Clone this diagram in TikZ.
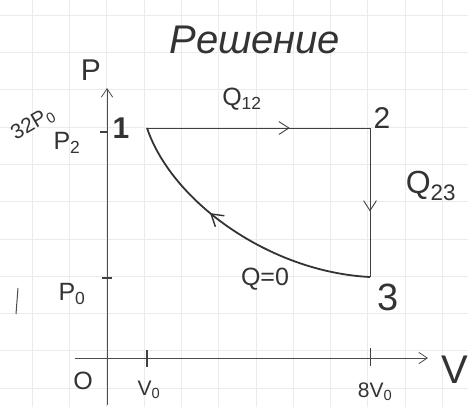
\documentclass[tikz,border=0pt]{standalone}
\usepackage{fontspec}
\setmainfont{Liberation Sans}
\usepackage{tikz}
\usetikzlibrary{arrows.meta,decorations.markings}

\begin{document}
\begin{tikzpicture}[
    x=1pt, y=-1pt,
    >={Straight Barb[length=3mm,width=4mm]},
    gridline/.style={gray!16,line width=0.6pt},
    axis/.style={->,black!70,line width=0.8pt},
    proc/.style={black!75,line width=0.9pt},
    adiab/.style={black!80,line width=1.8pt},
    midarrow/.style={postaction={decorate},decoration={markings,
        mark=at position #1 with {\arrow[line width=0.9pt]{Straight Barb[length=3.5mm,width=4.5mm]}}}},
    backarrow/.style={postaction={decorate},decoration={markings,
        mark=at position #1 with {\arrowreversed[line width=1.4pt]{Straight Barb[length=4mm,width=5mm]}}}},
    tick/.style={black!75,line width=1pt},
    big/.style={text=black!80,inner sep=0pt,font=\fontsize{30}{32}\selectfont},
    mid/.style={text=black!80,inner sep=0pt,font=\fontsize{25}{27}\selectfont},
    small/.style={text=black!80,inner sep=0pt,font=\fontsize{21}{23}\selectfont},
  ]
  \useasboundingbox (0,0) rectangle (468,407);

  % --- squared paper ---
  \foreach \k in {0,...,11} {
    \draw[gridline] ({32+37.3*\k},0) -- ({32+37.3*\k},407);
  }
  \foreach \k in {0,...,10} {
    \draw[gridline] (0,{15+37.3*\k}) -- (468,{15+37.3*\k});
  }

  % --- title ---
  \node[text=black!80,font=\itshape\fontsize{40}{42}\selectfont] (title) at (255,40) {Решение};

  % --- axes ---
  \coordinate (o)  at (107,358);
  \coordinate (xs) at (75,358);
  \coordinate (xe) at (428,358);
  \coordinate (ys) at (107,405);
  \coordinate (ye) at (107,88);
  \draw[axis] (xs) -- (xe);
  \draw[axis] (ys) -- (ye);
  \node[big] (plab) at (91,70) {P};
  \node[font=\fontsize{40}{42}\selectfont,text=black!80,inner sep=0pt] (vlab) at (455,370) {V};
  \node[mid] (olab) at (83,381) {O};

  % --- states ---
  \coordinate (p1) at (147,128);
  \coordinate (p2) at (370,128);
  \coordinate (p3) at (370,277);
  \node[big,font=\bfseries\fontsize{30}{32}\selectfont] (n1) at (121,128) {1};
  \node[big] (n2) at (382,118) {2};
  \node[font=\fontsize{38}{40}\selectfont,text=black!80,inner sep=0pt] (n3) at (388,297) {3};

  % --- ticks on the axes ---
  \coordinate (tp2a) at (100,132);  \coordinate (tp2b) at (108,132);
  \coordinate (tp0a) at (102,278);  \coordinate (tp0b) at (112,278);
  \coordinate (tv0a) at (147,350);  \coordinate (tv0b) at (147,367);
  \coordinate (tv8a) at (370,348);  \coordinate (tv8b) at (370,366);
  \draw[tick,line width=1.6pt] (tp2a) -- (tp2b);
  \draw[tick,line width=1.8pt] (tp0a) -- (tp0b);
  \draw[tick,line width=2pt] (tv0a) -- (tv0b);
  \draw[tick] (tv8a) -- (tv8b);

  % --- axis values ---
  \node[small,rotate=30] (p32) at (33,124) {32P\textsubscript{0}};
  \node[mid] (p2lab) at (67,143) {P\textsubscript{2}};
  \node[mid] (p0lab) at (72,294) {P\textsubscript{0}};
  \node[small] (v0lab) at (149,390) {V\textsubscript{0}};
  \node[small] (v8lab) at (375,392) {8V\textsubscript{0}};
  \coordinate (ma) at (18,288);
  \coordinate (mb) at (16,314);
  \draw[black!70,line width=1pt] (ma) -- (mb);

  % --- cycle ---
  \draw[proc,midarrow=0.64] (p1) -- (p2);
  \draw[proc,midarrow=0.56] (p2) -- (p3);
  \draw[adiab,backarrow=0.38] (p1) .. controls (172,202) and (270,272) .. (p3);

  % --- heat labels ---
  \node[mid] (q12) at (242,99) {Q\textsubscript{12}};
  \node[font=\fontsize{32}{34}\selectfont,text=black!80,inner sep=0pt] (q23) at (431,186) {Q\textsubscript{23}};
  \node[mid] (q0) at (265,279) {Q=0};

\end{tikzpicture}
\end{document}
